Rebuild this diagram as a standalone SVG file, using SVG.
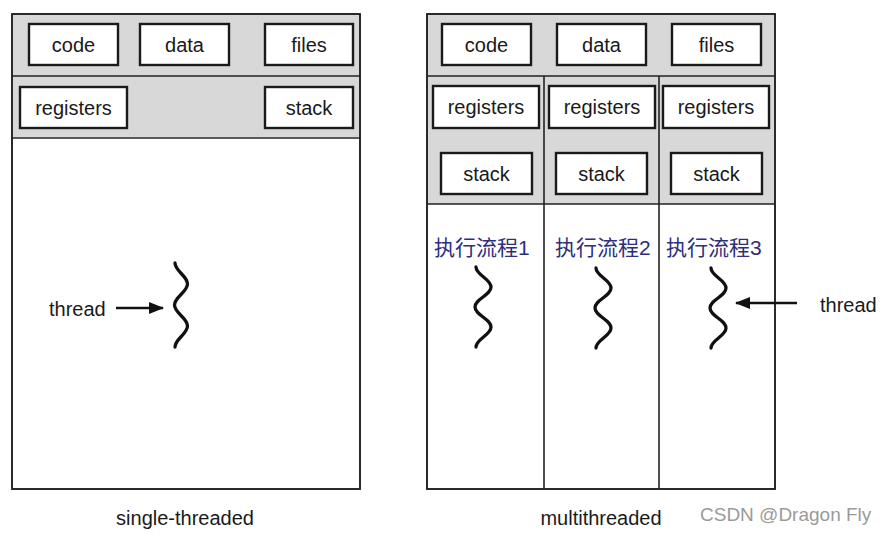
<svg xmlns="http://www.w3.org/2000/svg" width="885" height="534" viewBox="0 0 885 534">
<style>
  .panel { fill: #ffffff; stroke: #222; stroke-width: 1.6; }
  .frame { fill: none; stroke: #222; stroke-width: 1.6; }
  .gray { fill: #d8d8d8; stroke: none; }
  .div { stroke: #222; stroke-width: 1.6; fill: none; }
  .box { fill: #ffffff; stroke: #1a1a1a; stroke-width: 2.4; }
  .lbl { font-family: "Liberation Sans", Arial, sans-serif; font-size: 20px; fill: #1a1a1a; text-anchor: middle; }
  .txt { font-family: "Liberation Sans", Arial, sans-serif; font-size: 20px; fill: #1a1a1a; }
  .cjk { font-family: "Liberation Sans", "Noto Sans CJK SC", sans-serif; font-size: 21px; fill: #2e2e7c; }
  .sq { fill: none; stroke: #111; stroke-width: 3.3; stroke-linecap: round; }
  .arrow { stroke: #111; stroke-width: 2.4; fill: none; }
  .wm { font-family: "Liberation Sans", Arial, sans-serif; font-size: 19px; fill: #9a9a9a; }
</style>
<defs>
  <marker id="ah" viewBox="0 0 15 12" refX="14" refY="6" markerWidth="15" markerHeight="12" markerUnits="userSpaceOnUse" orient="auto">
    <path d="M0,0 L15,6 L0,12 Z" fill="#111"/>
  </marker>
  <path id="sqL" d="M-6,0 C-6,8 6.5,13 6.5,21 C6.5,29 -6.5,34 -6.5,42 C-6.5,50 6.5,55 6.5,63 C6.5,71 -6,76 -6,84"/>
  <path id="sqR" d="M-7,0 C-7,8 8,12 8,20 C8,28 -8,32 -8,40 C-8,48 8,52 8,60 C8,68 -7,72 -7,80"/>
</defs>

<!-- single-threaded panel -->
<g id="single-panel">
  <rect class="panel" x="12" y="14" width="348" height="475"/>
  <rect class="gray" x="13" y="15" width="346" height="122"/>
  <line class="div" x1="12" y1="76" x2="360" y2="76"/>
  <line class="div" x1="12" y1="138" x2="360" y2="138"/>
  <rect class="frame" x="12" y="14" width="348" height="475"/>
</g>
<g id="s-code"><rect class="box" x="29" y="24" width="89" height="41"/><text class="lbl" x="73.5" y="52">code</text></g>
<g id="s-data"><rect class="box" x="140" y="24" width="89" height="41"/><text class="lbl" x="184.5" y="52">data</text></g>
<g id="s-files"><rect class="box" x="265" y="24" width="88" height="41"/><text class="lbl" x="309" y="52">files</text></g>
<g id="s-registers"><rect class="box" x="20" y="87" width="107" height="41"/><text class="lbl" x="73.5" y="115">registers</text></g>
<g id="s-stack"><rect class="box" x="265" y="87" width="88" height="41"/><text class="lbl" x="309" y="115">stack</text></g>
<g id="s-thread"><use href="#sqL" class="sq" transform="translate(181,263)"/></g>
<g id="s-thread-label"><text class="txt" x="49" y="316">thread</text></g>
<g id="s-caption"><text class="lbl" x="185" y="525">single-threaded</text></g>

<!-- multithreaded panel -->
<g id="multi-panel">
  <rect class="panel" x="427" y="14" width="348" height="475"/>
  <rect class="gray" x="428" y="15" width="346" height="189"/>
  <line class="div" x1="427" y1="76" x2="775" y2="76"/>
  <line class="div" x1="427" y1="204" x2="775" y2="204"/>
  <line class="div" x1="544" y1="76" x2="544" y2="489"/>
  <line class="div" x1="659" y1="76" x2="659" y2="489"/>
  <rect class="frame" x="427" y="14" width="348" height="475"/>
</g>
<g id="m-code"><rect class="box" x="442" y="24" width="89" height="41"/><text class="lbl" x="486.5" y="52">code</text></g>
<g id="m-data"><rect class="box" x="557" y="24" width="89" height="41"/><text class="lbl" x="601.5" y="52">data</text></g>
<g id="m-files"><rect class="box" x="672" y="24" width="89" height="41"/><text class="lbl" x="716.5" y="52">files</text></g>
<g id="m-registers1"><rect class="box" x="433" y="86" width="106" height="42"/><text class="lbl" x="486" y="114">registers</text></g>
<g id="m-registers2"><rect class="box" x="549" y="86" width="106" height="42"/><text class="lbl" x="602" y="114">registers</text></g>
<g id="m-registers3"><rect class="box" x="663" y="86" width="106" height="42"/><text class="lbl" x="716" y="114">registers</text></g>
<g id="m-stack1"><rect class="box" x="441" y="153" width="91" height="41"/><text class="lbl" x="486.5" y="181">stack</text></g>
<g id="m-stack2"><rect class="box" x="556" y="153" width="91" height="41"/><text class="lbl" x="601.5" y="181">stack</text></g>
<g id="m-stack3"><rect class="box" x="671" y="153" width="91" height="41"/><text class="lbl" x="716.5" y="181">stack</text></g>
<g id="m-flow1"><text class="cjk" x="434" y="255">执行流程1</text><use href="#sqR" class="sq" transform="translate(483,267)"/></g>
<g id="m-flow2"><text class="cjk" x="555" y="255">执行流程2</text><use href="#sqR" class="sq" transform="translate(603,268)"/></g>
<g id="m-flow3"><text class="cjk" x="666" y="255">执行流程3</text><use href="#sqR" class="sq" transform="translate(718,268)"/></g>
<g id="m-thread-label"><text class="txt" x="820" y="312">thread</text></g>
<g id="m-caption"><text class="lbl" x="601" y="525">multithreaded</text></g>

<g id="connectors">
  <line class="arrow" x1="116" y1="308" x2="163" y2="308" marker-end="url(#ah)"/>
  <line class="arrow" x1="797" y1="303" x2="736" y2="303" marker-end="url(#ah)"/>
</g>

<text class="wm" x="700" y="521">CSDN @Dragon Fly</text>
</svg>
